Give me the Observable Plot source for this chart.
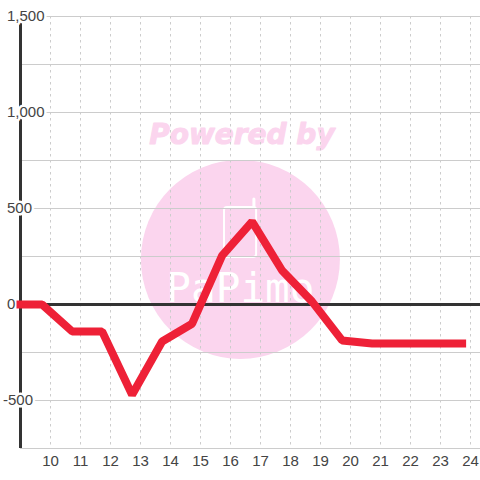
<!DOCTYPE html>
<html>
<head>
<meta charset="utf-8">
<style>html,body{margin:0;padding:0;background:#fff}svg{display:block}</style>
<script src="https://cdn.jsdelivr.net/npm/d3@7"></script>
<script src="https://cdn.jsdelivr.net/npm/@observablehq/plot@0.6"></script>
</head>
<body>
<div id="chart"></div>
<script>
const xDomain = [9, 24.333];
const yDomain = [-750, 1500];
const hours = [9, 9.72, 10.72, 11.72, 12.72, 13.72, 14.72, 15.72, 16.72, 17.72, 18.72, 19.72, 20.72, 21.72, 22.72, 23.72];
const values = [0, 0, -140, -140, -470, -193, -100, 255, 432, 177, 15, -187, -203, -203, -203, -203];
const xTicks = [10, 11, 12, 13, 14, 15, 16, 17, 18, 19, 20, 21, 22, 23, 24];
const yGrid = [-750, -500, -250, 0, 250, 500, 750, 1000, 1250, 1500];
const yLabels = [-500, 0, 500, 1000, 1500];
const series = hours.map((h, i) => ({h, v: values[i]}));

const axisFont = {fontFamily: "'Liberation Sans', Arial, sans-serif", fontSize: 15, fill: "#444"};
const halo = {stroke: "#fff", strokeWidth: 5, strokeLinejoin: "round", paintOrder: "stroke"};
const fmt = d => d3.format(",")(d).replace("\u2212", "-");

const plot = Plot.plot({
  width: 480, height: 480,
  marginLeft: 20, marginRight: 0, marginTop: 16, marginBottom: 32,
  x: {domain: xDomain, axis: null},
  y: {domain: yDomain, axis: null},
  style: {background: "#fff"},
  marks: [
    // watermark
    Plot.dot([{x: 16.33, y: 235}], {x: "x", y: "y", r: 99.5, fill: "#fbd5ee", stroke: "none"}),
    Plot.text(["Powered by"], {x: [16.38], y: [885], text: d => d, fontFamily: "'DejaVu Sans'", fontWeight: "bold", fontStyle: "italic", fontSize: 28, fill: "#fbd5ee", stroke: "#fbd5ee", strokeWidth: 1}),
    Plot.rect([0], {x1: [15.8], x2: [16.87], y1: [245], y2: [505], fill: "none", stroke: "#fff", strokeWidth: 2, rx: 3}),
    Plot.ruleX([16.78], {y1: 505, y2: 547, stroke: "#fff", strokeWidth: 3, strokeLinecap: "round"}),
    Plot.text(["PaPimo"], {x: [16.33], y: [83], text: d => d, fontFamily: "'DejaVu Sans Mono'", fontSize: 41, fontWeight: "200", fill: "#fff"}),
    // grid
    Plot.ruleY(yGrid, {stroke: "#ccc", strokeWidth: 1.2}),
    Plot.ruleX(xTicks, {stroke: "#ccc", strokeWidth: 1, strokeDasharray: "2.5 3.5"}),
    // axes
    Plot.ruleY([0], {stroke: "#333", strokeWidth: 3}),
    Plot.ruleX([xDomain[0]], {stroke: "#333", strokeWidth: 3}),
    Plot.text(yLabels.filter(d => d >= 0), {x: xDomain[0], y: d => d, text: d => fmt(d), textAnchor: "start", dx: -13.5, ...axisFont, ...halo}),
    Plot.text(yLabels.filter(d => d < 0), {x: xDomain[0], y: d => d, text: d => fmt(d), textAnchor: "start", dx: -17.5, ...axisFont, ...halo}),
    Plot.text(xTicks, {x: d => d, y: yDomain[0], text: d => String(d), dy: 13, ...axisFont}),
    // series
    Plot.line(series, {x: "h", y: "v", stroke: "#ee2137", strokeWidth: 8, strokeLinecap: "square", strokeLinejoin: "miter"})
  ]
});
document.getElementById("chart").appendChild(plot);
</script>
</body>
</html>
